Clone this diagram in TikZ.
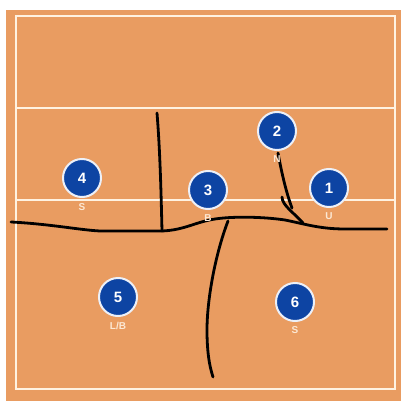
\documentclass[tikz,border=0pt]{standalone}
\usepackage{fontspec}
\setmainfont{Liberation Sans}
\definecolor{court}{RGB}{233,156,97}
\definecolor{courtline}{RGB}{255,242,225}
\definecolor{player}{RGB}{13,68,163}
\definecolor{lbl}{RGB}{252,232,212}
\begin{document}
\begin{tikzpicture}[x=1pt,y=-1pt,
  courtlinestyle/.style={draw=courtline,line width=2pt},
  playerdot/.style={circle,fill=player,draw=white!92!player,line width=2pt,minimum size=38pt,inner sep=0pt,text=white,font=\bfseries\fontsize{15}{15}\selectfont},
  poslabel/.style={text=lbl,font=\bfseries\fontsize{10}{10}\selectfont,inner sep=0pt},
  stroke/.style={draw=black,line width=2.8pt,line cap=round,line join=round}]
\useasboundingbox (0,0) rectangle (401,401);
\fill[white] (0,0) rectangle (401,401);
\fill[court] (6,10) rectangle (401,401);
% court lines
\draw[courtlinestyle] (16,16) rectangle (395,389);
\draw[courtlinestyle] (16,108) -- (395,108);
\draw[courtlinestyle] (16,200) -- (395,200);
% hand-drawn strokes
\coordinate (hA) at (11,222);
\coordinate (hB) at (387,229);
\draw[stroke] (hA) .. controls (50,224) and (80,230) .. (100,231)
  -- (162,231) .. controls (185,230) and (195,222) .. (215,219)
  .. controls (235,216) and (265,217) .. (285,220)
  .. controls (305,224) and (320,229) .. (345,229) -- (hB);
\coordinate (vA) at (157,113);
\coordinate (vB) at (162,231);
\draw[stroke] (vA) .. controls (160,150) and (161,190) .. (vB);
\coordinate (dA) at (228,221);
\coordinate (dB) at (213,377);
\draw[stroke] (dA) .. controls (215,255) and (207,300) .. (207,330) .. controls (207,350) and (209,365) .. (dB);
% player nodes
\node[playerdot] (p1) at (329,188) {1};
\node[playerdot] (p2) at (277,131) {2};
\node[playerdot] (p3) at (208,190) {3};
\node[playerdot] (p4) at (82,178) {4};
\node[playerdot] (p5) at (118,297) {5};
\node[playerdot] (p6) at (295,302) {6};
% strokes from player 2
\coordinate (nA) at (278,153);
\coordinate (nB) at (292,208);
\draw[stroke] (nA) .. controls (282,175) and (287,195) .. (nB);
\coordinate (mA) at (282,197);
\coordinate (mB) at (303,223);
\draw[stroke] (mA) .. controls (282,205) and (293,212) .. (mB);
% labels
\node[poslabel] (l1) at (329,216) {U};
\node[poslabel] (l2) at (277,159) {N};
\node[poslabel] (l3) at (208,218) {B};
\node[poslabel] (l4) at (82,207) {S};
\node[poslabel] (l5) at (118,326) {L/B};
\node[poslabel] (l6) at (295,330) {S};
\end{tikzpicture}
\end{document}
